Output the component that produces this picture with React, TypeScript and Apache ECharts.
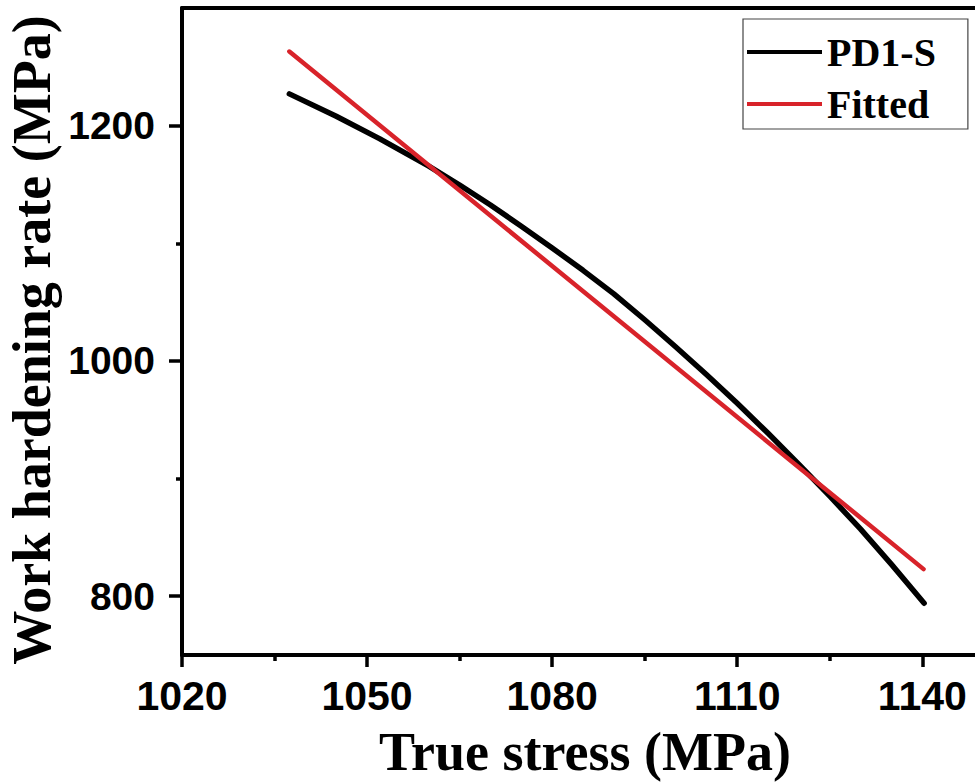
import React, { useEffect, useRef } from "react";
import * as echarts from "echarts";

// ---- data ----
const stressPD1S = [1037.4, 1045, 1052, 1060, 1065, 1070, 1075, 1080, 1085, 1090, 1095, 1100, 1105, 1110, 1115, 1120, 1125, 1130, 1135, 1140.3];
const ratePD1S = [1227, 1208, 1189, 1165.5, 1149.5, 1132.5, 1114.5, 1096, 1077, 1057, 1035, 1012, 988.5, 964, 938.5, 912, 885, 857, 827, 794];
const stressFitted = [1037.4, 1140.2];
const rateFitted = [1263, 823];

const xMajorTicks = [1020, 1050, 1080, 1110, 1140];
const xMinorTicks = [1035, 1065, 1095, 1125];
const yMajorTicks = [800, 1000, 1200];
const yMinorTicks = [900, 1100];

const seriesNames = ["PD1-S", "Fitted"];
const seriesColors = ["#000000", "#d8232a"];
const xTitle = "True stress (MPa)";
const yTitle = "Work hardening rate (MPa)";

const X_MIN = 1020, X_MAX = 1150, Y_MIN = 750, Y_MAX = 1300;

export default function App() {
  const ref = useRef<HTMLDivElement>(null);
  useEffect(() => {
    if (!ref.current) return;
    const chart = echarts.init(ref.current, null, { renderer: "svg" });
    const sans = "'Liberation Sans', Arial, sans-serif";
    const serif = "'Liberation Serif', 'Times New Roman', serif";
    const axisLineStyle = { color: "#000", width: 4 };
    const hidden = { show: false };
    const plain = (v: number) => String(Math.round(v));
    chart.setOption({
      animation: false,
      backgroundColor: "#fff",
      grid: { left: 182, right: 0, top: 8, bottom: 127, containLabel: false },
      xAxis: [
        {
          type: "value", position: "bottom", min: X_MIN, max: X_MAX,
          axisLine: { show: true, onZero: false, lineStyle: axisLineStyle },
          axisTick: { show: true, customValues: xMajorTicks, length: 12, lineStyle: { color: "#000", width: 3.5 } },
          axisLabel: { show: true, customValues: xMajorTicks, formatter: plain, margin: 20, color: "#000", fontSize: 41, fontWeight: "bold", fontFamily: sans },
          splitLine: hidden,
        },
        {
          type: "value", position: "bottom", min: X_MIN, max: X_MAX,
          axisLine: { show: false, onZero: false },
          axisTick: { show: true, customValues: xMinorTicks, length: 6, lineStyle: { color: "#000", width: 3.5 } },
          axisLabel: hidden, splitLine: hidden,
        },
        {
          type: "value", position: "top", min: X_MIN, max: X_MAX,
          axisLine: { show: true, onZero: false, lineStyle: axisLineStyle },
          axisTick: hidden, axisLabel: hidden, splitLine: hidden,
        },
      ],
      yAxis: [
        {
          type: "value", position: "left", min: Y_MIN, max: Y_MAX,
          axisLine: { show: true, onZero: false, lineStyle: axisLineStyle },
          axisTick: { show: true, customValues: yMajorTicks, length: 13, lineStyle: { color: "#000", width: 3.5 } },
          axisLabel: { show: true, customValues: yMajorTicks, formatter: plain, margin: 27, color: "#000", fontSize: 39, fontWeight: "bold", fontFamily: sans },
          splitLine: hidden,
        },
        {
          type: "value", position: "left", min: Y_MIN, max: Y_MAX,
          axisLine: { show: false, onZero: false },
          axisTick: { show: true, customValues: yMinorTicks, length: 6, lineStyle: { color: "#000", width: 3.5 } },
          axisLabel: hidden, splitLine: hidden,
        },
      ],
      legend: {
        orient: "vertical",
        left: 743,
        top: 19,
        padding: [10, 32, 2, 4],
        itemGap: 6,
        itemWidth: 75,
        itemHeight: 4,
        icon: "rect",
        borderColor: "#444",
        borderWidth: 1.2,
        backgroundColor: "#fff",
        data: seriesNames,
        textStyle: { color: "#000", fontSize: 40, fontWeight: "bold", fontFamily: serif, lineHeight: 46 },
      },
      graphic: [
        {
          type: "text", x: 585, y: 752,
          style: { text: xTitle, align: "center", verticalAlign: "middle", lineHeight: 50, fill: "#000", font: `bold 54px ${serif}` },
        },
        {
          type: "text", x: 32, y: 340, rotation: Math.PI / 2,
          style: { text: yTitle, align: "center", verticalAlign: "middle", lineHeight: 54, fill: "#000", font: `bold 54px ${serif}` },
        },
      ],
      series: [
        {
          name: seriesNames[0], type: "line", xAxisIndex: 0, yAxisIndex: 0,
          data: stressPD1S.map((x, i) => [x, ratePD1S[i]]),
          symbol: "none", smooth: false,
          lineStyle: { color: seriesColors[0], width: 5.5, cap: "round", join: "round" },
          itemStyle: { color: seriesColors[0] }, z: 3,
        },
        {
          name: seriesNames[1], type: "line", xAxisIndex: 0, yAxisIndex: 0,
          data: stressFitted.map((x, i) => [x, rateFitted[i]]),
          symbol: "none",
          lineStyle: { color: seriesColors[1], width: 4.5, cap: "round" },
          itemStyle: { color: seriesColors[1] }, z: 4,
        },
      ],
    });
    return () => chart.dispose();
  }, []);
  return (
    <div style={{ position: "absolute", left: 0, top: 0, width: 975, height: 782, overflow: "hidden" }}>
      <div ref={ref} style={{ width: 984, height: 782 }} />
    </div>
  );
}
